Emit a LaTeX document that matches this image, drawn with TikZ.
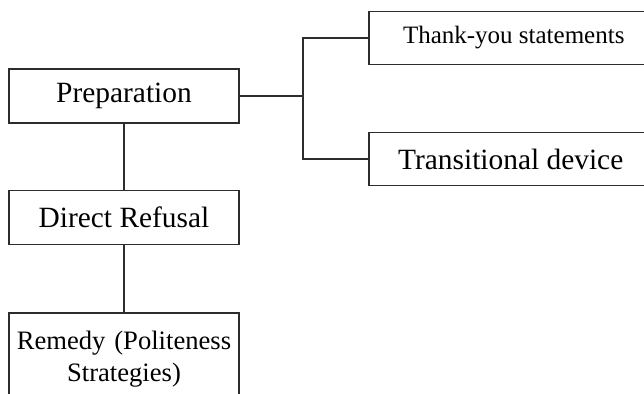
\documentclass[tikz,border=0pt]{standalone}
\usepackage{fontspec}
\setmainfont{Liberation Serif}
\usepackage{tikz}
\usetikzlibrary{positioning,calc}
\usepackage{xcolor}
\definecolor{ink}{RGB}{45,45,45}
\tikzset{
  box/.style={draw=ink,line width=0.75pt,fill=white,inner sep=2pt,
    font=\fontsize{14.7}{17}\selectfont,align=center,
    minimum width=115pt,minimum height=27pt},
  sidebox/.style={box,minimum height=26.5pt,anchor=west},
  link/.style={draw=ink,line width=0.75pt},
}

\begin{document}
\begin{tikzpicture}[x=0.5pt,y=-0.5pt]
  \useasboundingbox (0,0) rectangle (644,394);
  \clip (0,0) rectangle (644,394);

  % main column
  \node[box] (prep) at (124,96) {Preparation};
  \node[box,below=33pt of prep] (refusal) {Direct Refusal};
  \node[box,below=33.5pt of refusal,minimum height=46pt,text width=111pt,
    font=\fontsize{13.3}{16.3}\selectfont] (remedy)
    {Remedy (Politeness\\ Strategies)};

  % side branch
  \coordinate (fork) at (303,96);
  \node[sidebox,font=\fontsize{12.5}{15}\selectfont,minimum width=145pt]
    (thanks) at (368,38) {Thank-you statements};
  \node[sidebox,minimum width=142pt] (trans) at (368,159) {Transitional device};

  \draw[link] (prep) -- (refusal);
  \draw[link] (refusal) -- (remedy);
  \draw[link] (prep.east) -- (fork);
  \draw[link] (fork) |- (thanks.west);
  \draw[link] (fork) |- (trans.west);
\end{tikzpicture}
\end{document}
